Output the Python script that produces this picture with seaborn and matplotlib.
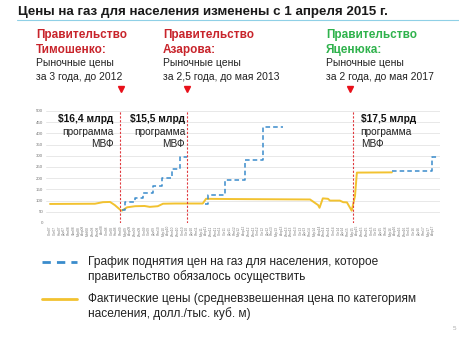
import matplotlib
matplotlib.use("Agg")
import matplotlib.pyplot as plt
from matplotlib.lines import Line2D
import seaborn as sns
import pandas as pd

# ---------------- data ----------------
x_labels = ("Сен07 Окт07 Ноя07 Дек07 Янв08 Фев08 Мар08 Апр08 Май08 Июн08 Июл08 Авг08 Сен08 Окт08 Ноя08 "
            "Янв09 Мар09 Апр09 Июн09 Июл09 Сен09 Окт09 Дек09 Янв10 Мар10 Апр10 Июн10 Июл10 Сен10 Окт10 Дек10 "
            "Янв11 Мар11 Апр11 Июн11 Июл11 Сен11 Окт11 Дек11 Янв12 Мар12 Апр12 Июн12 Июл12 Сен12 Окт12 Дек12 "
            "Янв13 Мар13 Апр13 Июн13 Июл13 Сен13 Окт13 Дек13 Янв14 Мар14 Апр14 Июн14 Июл14 Сен14 Окт14 Дек14 "
            "Янв15 Мар15 Апр15 Июн15 Июл15 Сен15 Окт15 Дек15 Янв16 Мар16 Апр16 Июн16 Июл16 Сен16 Окт16 Дек16 "
            "Янв17 Мар17 Апр17").split()

# actual prices (yellow)
actual_x = [0, 9.5, 11.2, 12.7, 13.7, 14.8, 15.2, 16.3, 18, 20, 21.1, 22.8, 23.9, 26.4, 32.3, 33,
            38, 55, 56.7, 57, 57.7, 58.8, 59.2, 61.3, 62, 62.8, 63.8, 64.5, 64.9, 72.3]
actual_y = [85, 86, 93, 94, 80, 60, 55, 70, 75, 76, 72, 75, 86, 87, 87, 108,
            107, 105, 80, 68, 110, 108, 100, 100, 93, 92, 55, 120, 225, 226]

# planned schedule (blue dashed, step)
plan1_x = [15.2, 15.9, 18.0, 19.7, 21.8, 23.7, 25.8, 27.5, 29.0]
plan1_y = [60, 95, 113, 135, 165, 200, 240, 293, 293]
plan2_x = [32.8, 33.4, 37.0, 41.2, 45.0, 49.3]
plan2_y = [87, 125, 192, 281, 427, 427]
plan3_x = [72.3, 80.8, 81.8]
plan3_y = [230, 293, 293]

program_x = [14.8, 29.0, 64.0]
program_amount = ["$16,4 млрд", "$15,5 млрд", "$17,5 млрд"]

gov_names = [("Правительство", "Тимошенко:"), ("Правительство", "Азарова:"), ("Правительство", "Яценюка:")]
gov_notes = [("Рыночные цены", "за 3 года, до 2012"), ("Рыночные цены", "за 2,5 года, до мая 2013"),
             ("Рыночные цены", "за 2 года, до мая 2017")]

y_ticks = [0, 50, 100, 150, 200, 250, 300, 350, 400, 450, 500]

# ---------------- style ----------------
sns.set_theme(style="white")
plt.rcParams['font.family'] = ['Liberation Sans', 'DejaVu Sans']

W, H = 460, 340
fig = plt.figure(figsize=(4.6, 3.4), dpi=100)
fig.patch.set_facecolor("white")

def fx(px):
    return px / W

def fy(py):
    return 1 - py / H

RED = "#c8242b"
GREEN = "#2fb24c"
BLUE = "#3a8ccc"
YELLOW = "#f2c230"

# title and rule
fig.text(fx(18), fy(12), "Цены на газ для населения изменены с 1 апреля 2015 г.",
         fontsize=9.6, fontweight="bold", color="#1a1a1a", va="center", ha="left")
fig.add_artist(Line2D([fx(17), fx(460)], [fy(20), fy(20)], color="#8fd0e6", lw=0.8))

# header blocks
block_x = [36, 163, 326]
block_col = [RED, RED, GREEN]
tri_x = [121, 187, 350]
for i in range(3):
    fig.text(fx(block_x[i]), fy(35), gov_names[i][0], fontsize=8.5, fontweight="bold",
             color=block_col[i], va="center")
    fig.text(fx(block_x[i]), fy(50), gov_names[i][1], fontsize=8.5, fontweight="bold",
             color=block_col[i], va="center")
    fig.text(fx(block_x[i]), fy(63.5), gov_notes[i][0], fontsize=7.5, color="#222222", va="center")
    fig.text(fx(block_x[i]), fy(76.5), gov_notes[i][1], fontsize=7.5, color="#222222", va="center")
    fig.add_artist(Line2D([fx(tri_x[i])], [fy(89)], marker="v", color="#e8101a",
                          markersize=4.5, linestyle="none"))

# ---------------- chart ----------------
ax_left, ax_right, ax_top, ax_bot = 46, 440, 111, 223
ax = fig.add_axes([fx(ax_left), fy(ax_bot), fx(ax_right - ax_left), (ax_bot - ax_top) / H])
scale = (433 - 50) / 81.0
ax.set_xlim(-(50 - ax_left) / scale, 81 + (ax_right - 433) / scale)
ax.set_ylim(0, 500)

for yt in y_ticks:
    ax.axhline(yt, color="#e4e4e4", lw=0.6, zorder=0)

df_act = pd.DataFrame({"x": actual_x, "y": actual_y})
sns.lineplot(data=df_act, x="x", y="y", ax=ax, color=YELLOW, lw=1.4, estimator=None, sort=False, zorder=3)
for px_, py_ in [(plan1_x, plan1_y), (plan2_x, plan2_y), (plan3_x, plan3_y)]:
    d = pd.DataFrame({"x": px_, "y": py_})
    sns.lineplot(data=d, x="x", y="y", ax=ax, color=BLUE, lw=1.1, estimator=None, sort=False,
                 drawstyle="steps-post", linestyle=(0, (3, 2)), zorder=4)

for xv in program_x:
    ax.axvline(xv, color="#e0393e", lw=0.8, linestyle=(0, (2, 1.5)), zorder=5)

# program annotations
ann_fs_b, ann_fs = 7.4, 7.3
ax.text(program_x[0] - 1.3, 465, program_amount[0], fontsize=ann_fs_b, fontweight="bold",
        ha="right", va="center", color="#111111")
ax.text(program_x[0] - 1.3, 407, "программа", fontsize=ann_fs, ha="right", va="center", color="#222222")
ax.text(program_x[0] - 1.3, 352, "МВФ", fontsize=ann_fs, ha="right", va="center", color="#222222")
ax.text(program_x[1] - 0.4, 465, program_amount[1], fontsize=ann_fs_b, fontweight="bold",
        ha="right", va="center", color="#111111")
ax.text(program_x[1] - 0.4, 407, "программа", fontsize=ann_fs, ha="right", va="center", color="#222222")
ax.text(program_x[1] - 0.4, 352, "МВФ", fontsize=ann_fs, ha="right", va="center", color="#222222")
ax.text(program_x[2] + 1.7, 465, program_amount[2], fontsize=ann_fs_b, fontweight="bold",
        ha="left", va="center", color="#111111")
ax.text(program_x[2] + 1.7, 407, "программа", fontsize=ann_fs, ha="left", va="center", color="#222222")
ax.text(program_x[2] + 1.7, 352, "МВФ", fontsize=ann_fs, ha="left", va="center", color="#222222")

ax.set_xticks(range(len(x_labels)))
ax.set_xticklabels(x_labels, rotation=90, fontsize=2.3, color="#777777")
ax.set_yticks(y_ticks)
ax.set_yticklabels([str(v) for v in y_ticks], fontsize=3.2, color="#777777")
ax.tick_params(axis="both", length=0, pad=2)
ax.set_xlabel("")
ax.set_ylabel("")
for s in ax.spines.values():
    s.set_visible(False)
ax.grid(False)
ax.set_facecolor("white")

# ---------------- legend ----------------
fig.add_artist(Line2D([fx(42), fx(77)], [fy(262), fy(262)], color=BLUE, lw=2.0, linestyle=(0, (3, 2.2))))
fig.add_artist(Line2D([fx(42), fx(77)], [fy(299), fy(299)], color=YELLOW, lw=2.0))
leg_fs = 8.6
fig.text(fx(88), fy(262), "График поднятия цен на газ для населения, которое", fontsize=leg_fs,
         color="#222222", va="center")
fig.text(fx(88), fy(277), "правительство обязалось осуществить", fontsize=leg_fs, color="#222222", va="center")
fig.text(fx(88), fy(299), "Фактические цены (средневзвешенная цена по категориям", fontsize=leg_fs,
         color="#222222", va="center")
fig.text(fx(88), fy(314), "населения, долл./тыс. куб. м)", fontsize=leg_fs, color="#222222", va="center")
fig.text(fx(453), fy(328), "5", fontsize=4.5, color="#aaaaaa", va="center")

fig.savefig("out.png", dpi=100, facecolor="white")
